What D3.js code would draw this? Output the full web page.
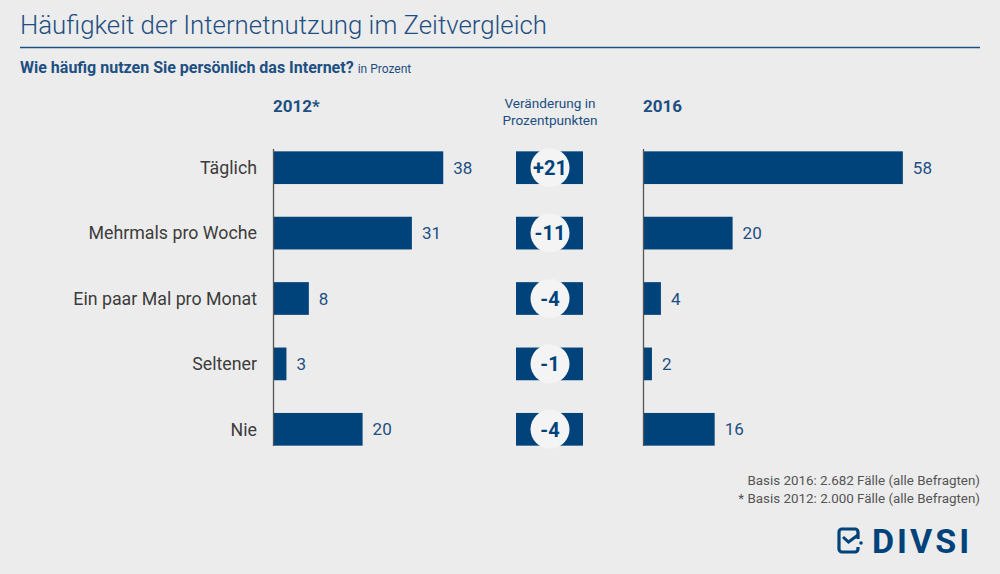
<!DOCTYPE html>
<html><head><meta charset="utf-8">
<script src="https://cdn.jsdelivr.net/npm/d3@7"></script>
<style>
html,body{margin:0;padding:0;background:#ececec;}
svg{display:block;font-family:Roboto,"DejaVu Sans",sans-serif;}
</style></head>
<body>
<script>
const categories = ["Täglich","Mehrmals pro Woche","Ein paar Mal pro Monat","Seltener","Nie"];
const values2012 = [38,31,8,3,20];
const values2016 = [58,20,4,2,16];
const changes = ["+21","-11","-4","-1","-4"];

const W=1000,H=574;
const blue="#00427a", textBlue="#1d4f82", grey="#3c3c3c";
const svg=d3.select("body").append("svg").attr("width",W).attr("height",H);
svg.append("rect").attr("width",W).attr("height",H).attr("fill","#ececec");

// Title
svg.append("text").attr("x",20).attr("y",34).attr("font-size",25.8).attr("font-weight",300)
  .attr("fill",textBlue).text("Häufigkeit der Internetnutzung im Zeitvergleich");
svg.append("line").attr("x1",20).attr("x2",980).attr("y1",47.5).attr("y2",47.5)
  .attr("stroke",textBlue).attr("stroke-width",1.5);
const sub=svg.append("text").attr("x",20).attr("y",73).attr("fill",textBlue);
sub.append("tspan").attr("font-size",16).attr("font-weight",700).text("Wie häufig nutzen Sie persönlich das Internet?");
sub.append("tspan").attr("font-size",12).attr("dx",4).text("in Prozent");

// Scales
const y=d3.scaleBand().domain(categories).range([135,462]).paddingInner(0.5).paddingOuter(0.25);
const x=d3.scaleLinear().domain([0,100]).range([0,448]);
const leftX=273, rightX=643, midX=550;

// headers
svg.append("text").attr("x",leftX).attr("y",112).attr("font-size",17).attr("font-weight",700)
  .attr("fill",textBlue).text("2012*");
svg.append("text").attr("x",rightX).attr("y",112).attr("font-size",17).attr("font-weight",700)
  .attr("fill",textBlue).text("2016");
const vh=svg.append("text").attr("text-anchor","middle").attr("font-size",13.6).attr("fill",textBlue);
vh.append("tspan").attr("x",midX).attr("y",108).text("Veränderung in");
vh.append("tspan").attr("x",midX).attr("y",125).text("Prozentpunkten");

// category labels
svg.append("g").selectAll("text").data(categories).join("text")
  .attr("x",257).attr("y",d=>y(d)+y.bandwidth()/2).attr("dy","0.35em")
  .attr("text-anchor","end").attr("font-size",17.8).attr("fill",grey).text(d=>d);

function drawBars(x0,vals){
  const g=svg.append("g").attr("transform",`translate(${x0},0)`);
  g.selectAll("rect").data(vals).join("rect")
    .attr("x",0).attr("y",(d,i)=>y(categories[i])).attr("height",y.bandwidth())
    .attr("width",d=>x(d)).attr("fill",blue);
  g.selectAll("text").data(vals).join("text")
    .attr("x",d=>x(d)+10).attr("y",(d,i)=>y(categories[i])+y.bandwidth()/2).attr("dy","0.36em")
    .attr("font-size",17).attr("fill",textBlue).text(d=>d);
  g.append("line").attr("x1",0.5).attr("x2",0.5).attr("y1",y.range()[0]+14).attr("y2",y.range()[1]-16)
    .attr("stroke","#555").attr("stroke-width",1.3);
}
drawBars(leftX,values2012);
drawBars(rightX,values2016);

// change badges
const bg=svg.append("g");
bg.selectAll("rect").data(changes).join("rect")
  .attr("x",516).attr("width",67).attr("y",(d,i)=>y(categories[i])).attr("height",y.bandwidth())
  .attr("fill",blue);
bg.selectAll("circle").data(changes).join("circle")
  .attr("cx",midX).attr("cy",(d,i)=>y(categories[i])+y.bandwidth()/2).attr("r",19.5)
  .attr("fill","#f4f4f4");
bg.selectAll("text").data(changes).join("text")
  .attr("x",midX).attr("y",(d,i)=>y(categories[i])+y.bandwidth()/2).attr("dy","0.36em")
  .attr("text-anchor","middle").attr("font-size",20).attr("font-weight",700)
  .attr("fill",blue).text(d=>d);

// footnotes
const fn=svg.append("text").attr("text-anchor","end").attr("font-size",13.4).attr("fill","#555");
fn.append("tspan").attr("x",980).attr("y",485).text("Basis 2016: 2.682 Fälle (alle Befragten)");
fn.append("tspan").attr("x",980).attr("y",503).text("* Basis 2012: 2.000 Fälle (alle Befragten)");

// logo
const lg=svg.append("g");
lg.append("path").attr("d","M858,539 V532 a3,3 0 0 0 -3,-3 H842 a3,3 0 0 0 -3,3 V549 a3,3 0 0 0 3,3 H855 a3,3 0 0 0 3,-3 V547")
  .attr("fill","none").attr("stroke",blue).attr("stroke-width",3.2);
lg.append("path").attr("d","M843,537 L848.5,542 L858,535").attr("fill","none").attr("stroke",blue).attr("stroke-width",3);
lg.append("circle").attr("cx",861).attr("cy",543).attr("r",1.8).attr("fill",blue);
lg.append("text").attr("x",872).attr("y",553).attr("font-size",34).attr("font-weight",700)
  .attr("fill",blue).attr("letter-spacing",3).text("DIVSI");
</script>
</body></html>
